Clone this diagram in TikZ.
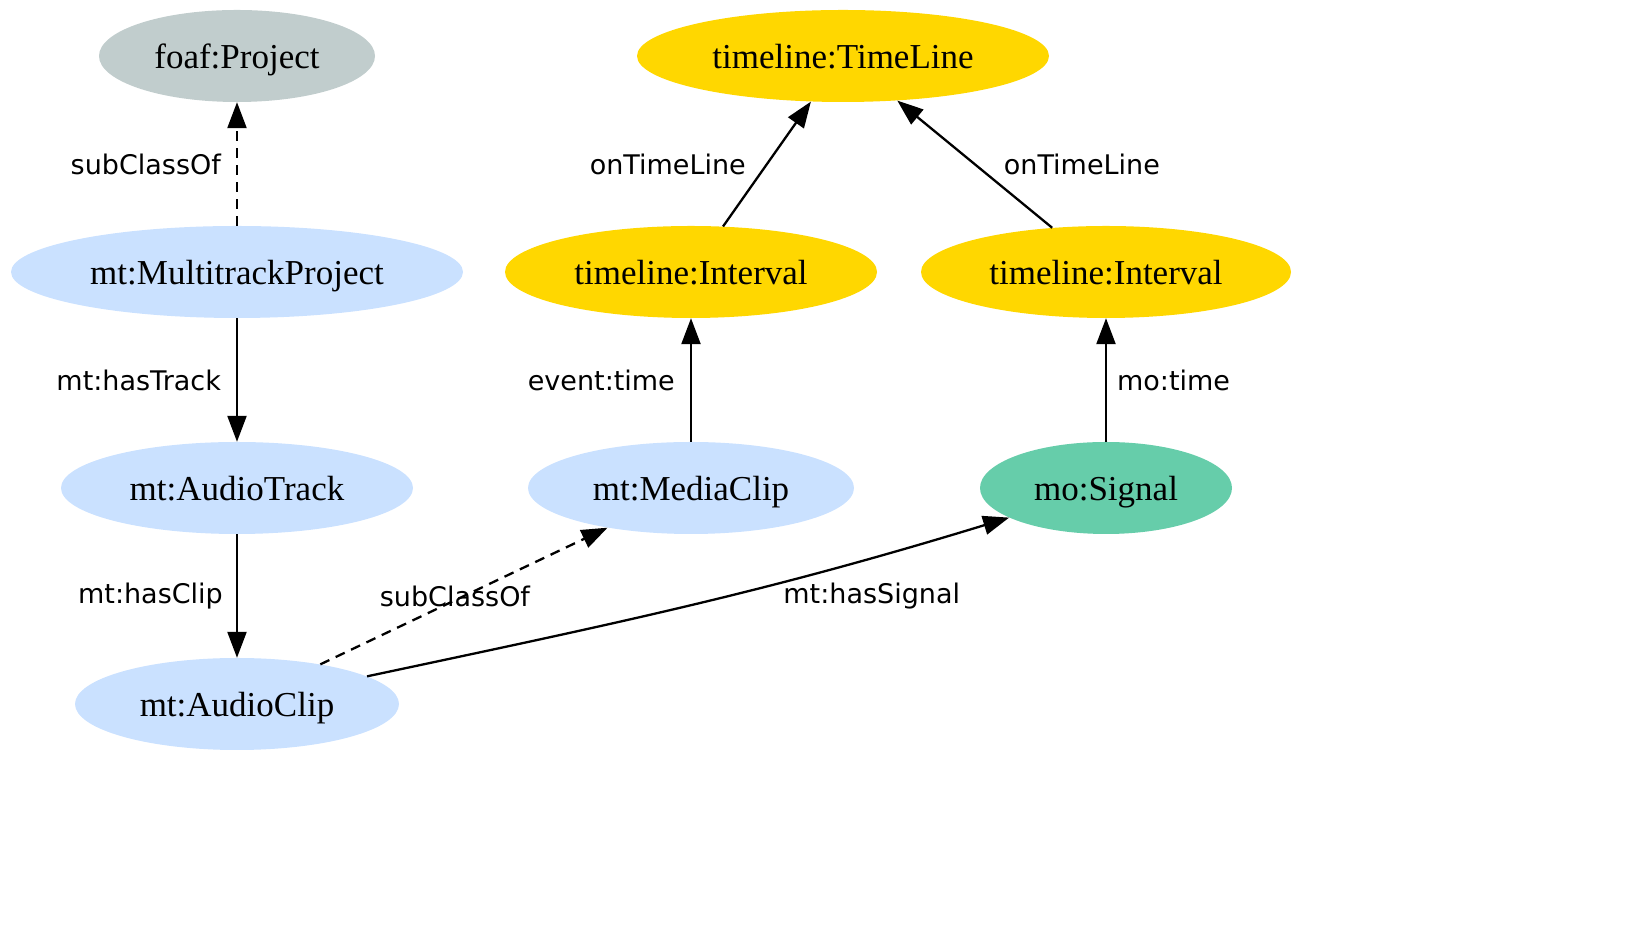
\documentclass[tikz,border=0pt]{standalone}
\usepackage{fontspec}
\setmainfont{Liberation Serif}
\newfontfamily\edgefont{DejaVu Sans}
\usetikzlibrary{positioning, shapes.geometric, arrows.meta}
\definecolor{projgray}{HTML}{C1CDCD}
\definecolor{mtblue}{HTML}{CAE1FF}
\definecolor{tlgold}{HTML}{FFD700}
\definecolor{sigteal}{HTML}{66CDAA}

\begin{document}
\begin{tikzpicture}[x=1pt, y=1pt, node distance=216pt, >={Triangle[length=26pt,width=19pt]},
    cls/.style={ellipse, fill=#1, on grid, minimum height=92pt, inner sep=0pt, text depth=0pt, font=\fontsize{35}{40}\selectfont},
    lbl/.style={font=\edgefont\fontsize{27}{32}\selectfont, inner sep=0pt},
    sub/.style={dash pattern=on 10pt off 7pt}]
    \useasboundingbox (0,0) rectangle (1628,947);
    \node[cls=projgray, minimum width=276pt] (proj) at (237,891) {foaf:Project};
    \node[cls=mtblue, minimum width=452pt] (mtp) [below=of proj] {mt:MultitrackProject};
    \node[cls=mtblue, minimum width=352pt] (track) [below=of mtp] {mt:AudioTrack};
    \node[cls=mtblue, minimum width=324pt] (clip) [below=of track] {mt:AudioClip};
    \node[cls=tlgold, minimum width=412pt] (tl) at (843,891) {timeline:TimeLine};
    \node[cls=tlgold, minimum width=372pt] (int1) [below left=216pt and 152pt of tl] {timeline:Interval};
    \node[cls=tlgold, minimum width=370pt] (int2) [below right=216pt and 263pt of tl] {timeline:Interval};
    \node[cls=mtblue, minimum width=326pt] (media) [below=of int1] {mt:MediaClip};
    \node[cls=sigteal, minimum width=252pt] (sig) [below=of int2] {mo:Signal};
    \path[->, line width=2.3pt]
     (mtp) edge [sub] node [lbl, left=15pt] {subClassOf} (proj)
           edge node [lbl, left=15pt] {mt:hasTrack} (track)
     (track) edge node [lbl, left=13pt] {mt:hasClip} (clip)
     (clip) edge [sub] node [lbl, xshift=-9pt] {subClassOf} (media)
            edge [out=12, in=197] node [lbl, pos=.8, below=24pt] {mt:hasSignal} (sig)
     (media) edge node [lbl, left=15pt] {event:time} (int1)
     (sig) edge node [lbl, right=10pt] {mo:time} (int2)
     (int1) edge node [lbl, left=20pt] {onTimeLine} (tl)
     (int2) edge node [lbl, right=28pt] {onTimeLine} (tl)
     ;
\end{tikzpicture}
\end{document}
